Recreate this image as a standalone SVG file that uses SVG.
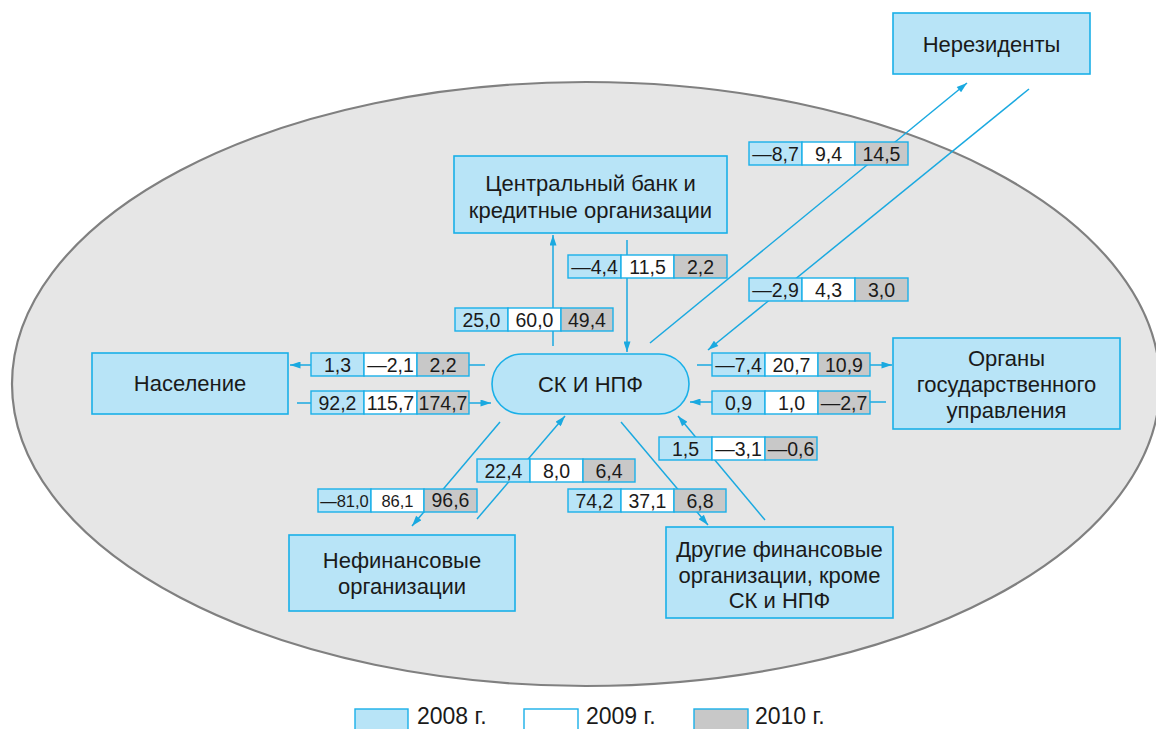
<svg xmlns="http://www.w3.org/2000/svg" width="1156" height="729" viewBox="0 0 1156 729">
<defs>
<style>
.bx{fill:#b8e4f7;stroke:#1ab0e8;stroke-width:1.6}
.lbl{font-family:"Liberation Sans",Arial,sans-serif;font-size:22px;fill:#1a1a1a;text-anchor:middle}
.leg{font-family:"Liberation Sans",Arial,sans-serif;font-size:23px;fill:#1a1a1a;text-anchor:start}
.c1{fill:#b8e4f7;stroke:#1ab0e8;stroke-width:1.4}
.c2{fill:#ffffff;stroke:#1ab0e8;stroke-width:1.4}
.c3{fill:#c8c8c8;stroke:#1ab0e8;stroke-width:1.4}
.num{font-family:"Liberation Sans",Arial,sans-serif;font-size:19.5px;fill:#1a1a1a;text-anchor:middle}
.sm{font-size:16.5px}
.conn line{stroke:#1aa9e0;stroke-width:1.5;fill:none}
.arr{marker-end:url(#ah)}
</style>
<marker id="ah" viewBox="0 0 12 8" refX="12" refY="4" markerWidth="12" markerHeight="7" markerUnits="userSpaceOnUse" orient="auto">
<path d="M0,0 L12,4 L0,8 Z" fill="#1aa9e0"/>
</marker>
</defs>
<rect width="1156" height="729" fill="#ffffff"/>
<ellipse cx="586" cy="384" rx="574" ry="302" fill="#e6e6e6" stroke="#808080" stroke-width="2.2"/>

<g id="connectors" class="conn">
<line class="arr" x1="650" y1="343" x2="967" y2="83"/>
<line class="arr" x1="1029" y1="89" x2="708" y2="350"/>
<line class="arr" x1="553" y1="346" x2="553" y2="235"/>
<line class="arr" x1="627" y1="240" x2="627" y2="352"/>
<line class="arr" x1="485" y1="365" x2="290" y2="365"/>
<line class="arr" x1="297" y1="403" x2="491" y2="403"/>
<line class="arr" x1="697" y1="365" x2="892" y2="365"/>
<line class="arr" x1="886" y1="402" x2="690" y2="402"/>
<line class="arr" x1="765" y1="520" x2="678" y2="416"/>
<line class="arr" x1="621" y1="422" x2="708" y2="525"/>
<line class="arr" x1="477" y1="519" x2="565" y2="416"/>
<line class="arr" x1="500" y1="422" x2="412" y2="526"/>
</g>

<g id="values">
<g id="v-nonres-out" transform="translate(749,142)">
<rect class="c1" x="0" y="0" width="53" height="23"/><rect class="c2" x="53" y="0" width="53" height="23"/><rect class="c3" x="106" y="0" width="53" height="23"/>
<text class="num" x="26.5" y="18.5">—8,7</text><text class="num" x="79.5" y="18.5">9,4</text><text class="num" x="132.5" y="18.5">14,5</text>
</g>
<g id="v-nonres-in" transform="translate(749,278)">
<rect class="c1" x="0" y="0" width="53" height="23"/><rect class="c2" x="53" y="0" width="53" height="23"/><rect class="c3" x="106" y="0" width="53" height="23"/>
<text class="num" x="26.5" y="18.5">—2,9</text><text class="num" x="79.5" y="18.5">4,3</text><text class="num" x="132.5" y="18.5">3,0</text>
</g>
<g id="v-cb-in" transform="translate(568,255)">
<rect class="c1" x="0" y="0" width="53" height="23"/><rect class="c2" x="53" y="0" width="53" height="23"/><rect class="c3" x="106" y="0" width="53" height="23"/>
<text class="num" x="26.5" y="18.5">—4,4</text><text class="num" x="79.5" y="18.5">11,5</text><text class="num" x="132.5" y="18.5">2,2</text>
</g>
<g id="v-cb-out" transform="translate(455,308)">
<rect class="c1" x="0" y="0" width="53" height="23"/><rect class="c2" x="53" y="0" width="53" height="23"/><rect class="c3" x="106" y="0" width="52" height="23"/>
<text class="num" x="26.5" y="18.5">25,0</text><text class="num" x="79.5" y="18.5">60,0</text><text class="num" x="132" y="18.5">49,4</text>
</g>
<g id="v-pop-out" transform="translate(311,353)">
<rect class="c1" x="0" y="0" width="53" height="23"/><rect class="c2" x="53" y="0" width="53" height="23"/><rect class="c3" x="106" y="0" width="52" height="23"/>
<text class="num" x="26.5" y="18.5">1,3</text><text class="num" x="79.5" y="18.5">—2,1</text><text class="num" x="132" y="18.5">2,2</text>
</g>
<g id="v-pop-in" transform="translate(311,391)">
<rect class="c1" x="0" y="0" width="53" height="23"/><rect class="c2" x="53" y="0" width="53" height="23"/><rect class="c3" x="106" y="0" width="52" height="23"/>
<text class="num" x="26.5" y="18.5">92,2</text><text class="num" x="79.5" y="18.5">115,7</text><text class="num" x="132" y="18.5">174,7</text>
</g>
<g id="v-gov-out" transform="translate(712,353)">
<rect class="c1" x="0" y="0" width="53" height="23"/><rect class="c2" x="53" y="0" width="53" height="23"/><rect class="c3" x="106" y="0" width="52" height="23"/>
<text class="num" x="26.5" y="18.5">—7,4</text><text class="num" x="79.5" y="18.5">20,7</text><text class="num" x="132" y="18.5">10,9</text>
</g>
<g id="v-gov-in" transform="translate(712,391)">
<rect class="c1" x="0" y="0" width="53" height="23"/><rect class="c2" x="53" y="0" width="53" height="23"/><rect class="c3" x="106" y="0" width="52" height="23"/>
<text class="num" x="26.5" y="18.5">0,9</text><text class="num" x="79.5" y="18.5">1,0</text><text class="num" x="132" y="18.5">—2,7</text>
</g>
<g id="v-ofi-in" transform="translate(659,437)">
<rect class="c1" x="0" y="0" width="53" height="23"/><rect class="c2" x="53" y="0" width="53" height="23"/><rect class="c3" x="106" y="0" width="52" height="23"/>
<text class="num" x="26.5" y="18.5">1,5</text><text class="num" x="79.5" y="18.5">—3,1</text><text class="num" x="132" y="18.5">—0,6</text>
</g>
<g id="v-nfo-in" transform="translate(477,459)">
<rect class="c1" x="0" y="0" width="53" height="23"/><rect class="c2" x="53" y="0" width="53" height="23"/><rect class="c3" x="106" y="0" width="52" height="23"/>
<text class="num" x="26.5" y="18.5">22,4</text><text class="num" x="79.5" y="18.5">8,0</text><text class="num" x="132" y="18.5">6,4</text>
</g>
<g id="v-nfo-out" transform="translate(318,489)">
<rect class="c1" x="0" y="0" width="53" height="23"/><rect class="c2" x="53" y="0" width="53" height="23"/><rect class="c3" x="106" y="0" width="53" height="23"/>
<text class="num sm" x="26.5" y="17.5">—81,0</text><text class="num sm" x="79.5" y="17.5">86,1</text><text class="num" x="132.5" y="18">96,6</text>
</g>
<g id="v-ofi-out" transform="translate(568,489)">
<rect class="c1" x="0" y="0" width="53" height="23"/><rect class="c2" x="53" y="0" width="53" height="23"/><rect class="c3" x="106" y="0" width="52" height="23"/>
<text class="num" x="26.5" y="18.5">74,2</text><text class="num" x="79.5" y="18.5">37,1</text><text class="num" x="132" y="18.5">6,8</text>
</g>
</g>

<g id="n-nonres"><rect class="bx" x="893" y="13" width="197" height="61"/><text class="lbl" x="991.5" y="51.5">Нерезиденты</text></g>
<g id="n-cb"><rect class="bx" x="454" y="156" width="273" height="77"/><text class="lbl" x="590.5" y="190.5">Центральный банк и</text><text class="lbl" x="590.5" y="217.5">кредитные организации</text></g>
<g id="n-pop"><rect class="bx" x="92" y="353" width="196" height="61"/><text class="lbl" x="190" y="390.5">Население</text></g>
<g id="n-sk"><rect class="bx" x="492" y="354" width="197" height="60" rx="30" ry="30"/><text class="lbl" x="590.5" y="391.5">СК И НПФ</text></g>
<g id="n-gov"><rect class="bx" x="893" y="338" width="227" height="91"/><text class="lbl" x="1006.5" y="365.5">Органы</text><text class="lbl" x="1006.5" y="391.5">государственного</text><text class="lbl" x="1006.5" y="417.5">управления</text></g>
<g id="n-nfo"><rect class="bx" x="289" y="535" width="226" height="76"/><text class="lbl" x="402" y="567.5">Нефинансовые</text><text class="lbl" x="402" y="593.5">организации</text></g>
<g id="n-ofi"><rect class="bx" x="666" y="527" width="227" height="91"/><text class="lbl" x="779.5" y="556.5">Другие финансовые</text><text class="lbl" x="779.5" y="582.5">организации, кроме</text><text class="lbl" x="779.5" y="607.5">СК и НПФ</text></g>

<g id="legend">
<rect class="c1" x="355" y="709" width="53" height="26"/><text class="leg" x="417" y="724">2008 г.</text>
<rect class="c2" x="524" y="709" width="54" height="26"/><text class="leg" x="586" y="724">2009 г.</text>
<rect class="c3" x="694" y="709" width="54" height="26"/><text class="leg" x="755" y="724">2010 г.</text>
</g>
</svg>
